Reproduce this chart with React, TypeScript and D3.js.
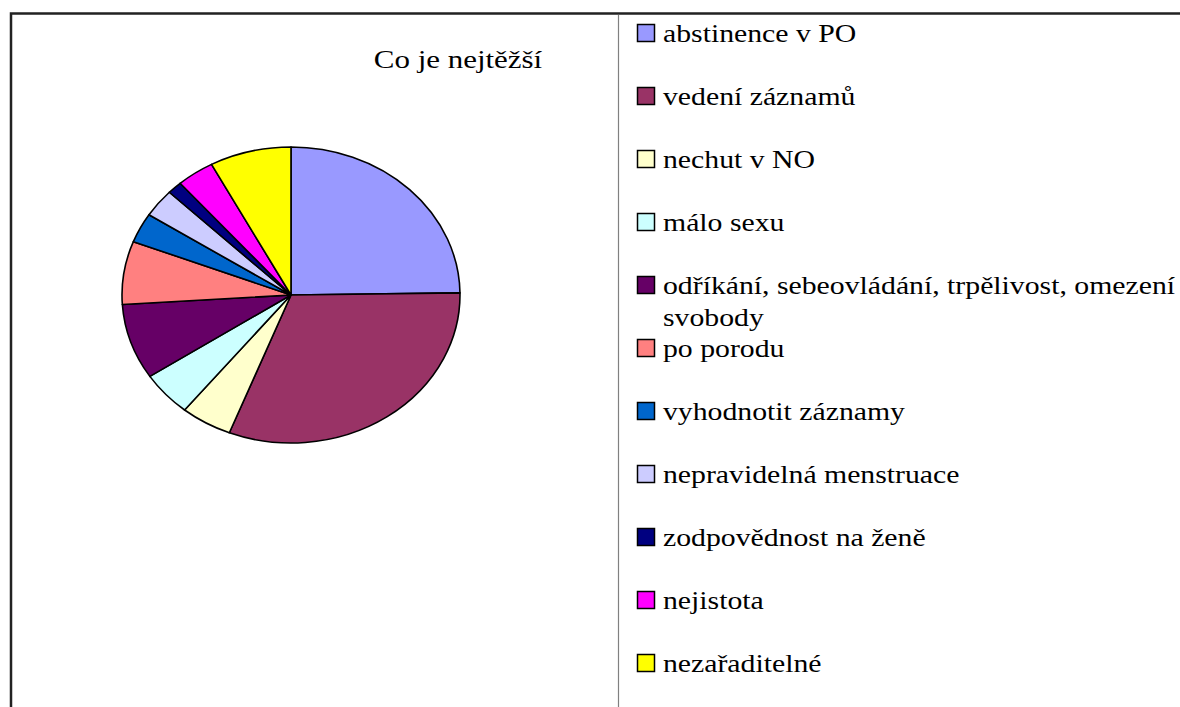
import React, { useEffect, useRef } from 'react';
import * as d3 from 'd3';

// Chart content
const title = 'Co je nejtěžší';

const categories: string[][] = [
  ['abstinence v PO'],
  ['vedení záznamů'],
  ['nechut v NO'],
  ['málo sexu'],
  ['odříkání, sebeovládání, trpělivost, omezení', 'svobody'],
  ['po porodu'],
  ['vyhodnotit záznamy'],
  ['nepravidelná menstruace'],
  ['zodpovědnost na ženě'],
  ['nejistota'],
  ['nezařaditelné'],
];

// share of answers (%)
const values = [24.8, 31.2, 4.9, 4.9, 8.25, 6.9, 3.25, 3.1, 1.4, 3.6, 7.8];

const colors = [
  '#9999FF', '#993366', '#FFFFCC', '#CCFFFF', '#660066', '#FF8080',
  '#0066CC', '#CCCCFF', '#000080', '#FF00FF', '#FFFF00',
];

const FONT = "'Liberation Serif', 'DejaVu Serif', serif";

const App: React.FC = () => {
  const svgRef = useRef<SVGSVGElement>(null);

  useEffect(() => {
    if (!svgRef.current) return;
    const width = 1180;
    const height = 707;
    const svg = d3.select(svgRef.current);
    svg.selectAll('*').remove();

    const stretch = 1.19;

    // frame + divider
    svg.append('rect')
      .attr('x', 11).attr('y', 13.5)
      .attr('width', width + 20).attr('height', height + 20)
      .attr('fill', '#fff')
      .attr('stroke', '#222')
      .attr('stroke-width', 2.5);

    svg.append('line')
      .attr('x1', 618.5).attr('x2', 618.5)
      .attr('y1', 15).attr('y2', height)
      .attr('stroke', '#808080')
      .attr('stroke-width', 1.2);

    // title
    svg.append('text')
      .attr('transform', `translate(458,68) scale(${stretch},1)`)
      .attr('text-anchor', 'middle')
      .style('font-family', FONT)
      .style('font-size', '26px')
      .attr('fill', '#000')
      .text(title);

    // pie (elliptical)
    const cx = 291;
    const cy = 295;
    const rx = 169;
    const ry = 148;

    const pie = d3.pie<number>().sort(null).value(d => d);
    const arc = d3.arc<d3.PieArcDatum<number>>().innerRadius(0).outerRadius(rx);

    const g = svg.append('g')
      .attr('transform', `translate(${cx},${cy}) scale(1,${ry / rx})`);

    g.selectAll('path')
      .data(pie(values))
      .enter()
      .append('path')
      .attr('d', arc)
      .attr('fill', (_d, i) => colors[i])
      .attr('stroke', '#000')
      .attr('stroke-width', 1.6)
      .attr('stroke-linejoin', 'round')
      .attr('vector-effect', 'non-scaling-stroke');

    // legend
    const legendY = d3.scaleLinear().domain([0, categories.length - 1]).range([33, 663]);
    const legend = svg.append('g');

    categories.forEach((lines, i) => {
      const y = legendY(i);
      legend.append('rect')
        .attr('x', 637.5).attr('y', y - 8.5)
        .attr('width', 17).attr('height', 17)
        .attr('fill', colors[i])
        .attr('stroke', '#000')
        .attr('stroke-width', 1.5);

      lines.forEach((line, j) => {
        legend.append('text')
          .attr('transform', `translate(663,${y + 8.5 + j * 32}) scale(${stretch},1)`)
          .style('font-family', FONT)
          .style('font-size', '25px')
          .attr('fill', '#000')
          .text(line);
      });
    });
  }, []);

  return (
    <svg
      ref={svgRef}
      width={1180}
      height={707}
      style={{ position: 'absolute', left: 0, top: 0, background: '#fff', fontFamily: FONT }}
    />
  );
};

export default App;
